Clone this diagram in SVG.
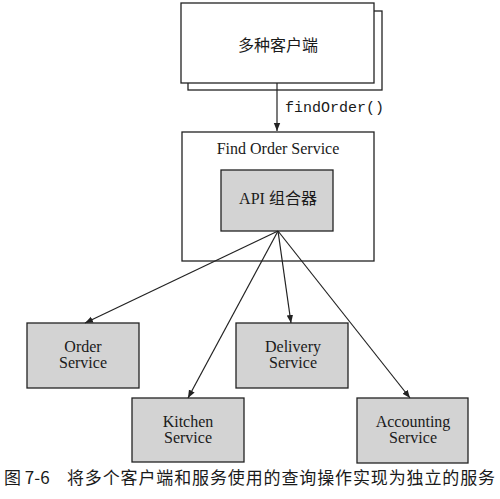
<svg xmlns="http://www.w3.org/2000/svg" width="500" height="499" viewBox="0 0 500 499">
<style>
.box{fill:#fff;stroke:#222;stroke-width:1.3}
.svc{fill:#d3d3d3;stroke:#222;stroke-width:1.3}
.t{font-family:"Liberation Serif","Noto Serif CJK SC","Noto Sans CJK SC",serif;font-size:16px;fill:#1a1a1a;text-anchor:middle}
.c{font-family:"Noto Sans CJK SC",sans-serif;font-size:16px;fill:#1a1a1a;text-anchor:middle}
.m{font-family:"Liberation Mono",monospace;font-size:15px;fill:#1a1a1a}
.ln{stroke:#222;stroke-width:1.2;fill:none;marker-end:url(#ah)}
</style>
<defs>
<marker id="ah" viewBox="0 0 10 10" refX="10" refY="5" markerWidth="8" markerHeight="8" markerUnits="userSpaceOnUse" orient="auto">
<path d="M0,1 L10,5 L0,9 z" fill="#222"/>
</marker>
</defs>
<rect width="500" height="499" fill="#fff"/>
<g id="clients">
<rect class="box" x="188" y="11" width="194" height="79"/>
<rect class="box" x="181" y="3" width="193" height="80"/>
<text class="c" x="278" y="51">多种客户端</text>
</g>
<g id="find-order-service">
<rect class="box" x="182" y="132" width="192" height="129"/>
<text class="t" x="278" y="154">Find Order Service</text>
</g>
<g id="api-composer">
<rect class="svc" x="221" y="170" width="112" height="61"/>
<text class="t" x="278" y="204">API <tspan font-family="Noto Sans CJK SC">组合器</tspan></text>
</g>
<g id="order-service">
<rect class="svc" x="27" y="323" width="112" height="65"/>
<text class="t" x="83" y="352">Order</text>
<text class="t" x="83" y="368">Service</text>
</g>
<g id="delivery-service">
<rect class="svc" x="236" y="323" width="112" height="65"/>
<text class="t" x="293" y="352">Delivery</text>
<text class="t" x="293" y="368">Service</text>
</g>
<g id="kitchen-service">
<rect class="svc" x="132" y="398" width="112" height="64"/>
<text class="t" x="188" y="427">Kitchen</text>
<text class="t" x="188" y="443">Service</text>
</g>
<g id="accounting-service">
<rect class="svc" x="357" y="398" width="111" height="65"/>
<text class="t" x="413" y="427">Accounting</text>
<text class="t" x="413" y="443">Service</text>
</g>
<g id="connectors">
<line class="ln" x1="277" y1="83" x2="277" y2="131"/>
<text class="m" x="285" y="112">findOrder()</text>
<line class="ln" x1="278" y1="231" x2="85" y2="323"/>
<line class="ln" x1="278" y1="231" x2="188" y2="398"/>
<line class="ln" x1="278" y1="231" x2="291" y2="323"/>
<line class="ln" x1="278" y1="231" x2="410" y2="398"/>
</g>
<g id="caption">
<text x="4" y="484" font-family="Noto Sans CJK SC,sans-serif" font-size="17" fill="#1a1a1a">图 7-6</text>
<text x="67" y="484" font-family="Noto Sans CJK SC,sans-serif" font-size="17" fill="#1a1a1a" textLength="428" lengthAdjust="spacing">将多个客户端和服务使用的查询操作实现为独立的服务</text>
</g>
</svg>
